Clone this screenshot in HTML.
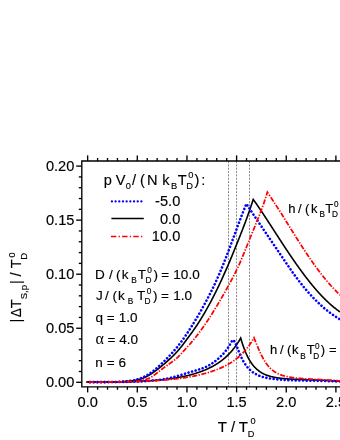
<!DOCTYPE html>
<html><head><meta charset="utf-8"><style>
html,body{margin:0;padding:0;background:#fff;}
svg{display:block;will-change:transform;}
text{font-family:"Liberation Sans",sans-serif;fill:#000;stroke:#000;stroke-width:0.15px;}
</style></head><body>
<svg width="340" height="440" viewBox="0 0 340 440">
<rect width="340" height="440" fill="#fff"/>
<defs><clipPath id="c"><rect x="81.8" y="161.0" width="258.2" height="225.8"/></clipPath></defs>
<g stroke="#858585" stroke-width="1" stroke-dasharray="2 1.35"><line x1="228.5" y1="161.0" x2="228.5" y2="386.8"/><line x1="236.55" y1="161.0" x2="236.55" y2="386.8"/><line x1="249.5" y1="161.0" x2="249.5" y2="386.8"/></g>
<g clip-path="url(#c)">
<path d="M86.60,382.09 L87.16,382.09 L87.71,382.09 L88.27,382.09 L88.83,382.09 L89.39,382.10 L89.94,382.10 L90.50,382.10 L91.06,382.10 L91.61,382.10 L92.17,382.10 L92.73,382.10 L93.29,382.11 L93.84,382.11 L94.40,382.11 L94.96,382.11 L95.52,382.11 L96.07,382.11 L96.63,382.11 L97.19,382.11 L97.74,382.11 L98.30,382.11 L98.86,382.11 L99.42,382.11 L99.97,382.11 L100.53,382.11 L101.09,382.11 L101.64,382.11 L102.20,382.11 L102.76,382.11 L103.32,382.11 L103.87,382.11 L104.43,382.11 L104.99,382.10 L105.54,382.10 L106.10,382.10 L106.66,382.09 L107.22,382.09 L107.77,382.09 L108.33,382.08 L108.89,382.08 L109.44,382.07 L110.00,382.06 L110.56,382.06 L111.12,382.05 L111.67,382.04 L112.23,382.04 L112.79,382.03 L113.35,382.02 L113.90,382.01 L114.46,382.00 L115.02,381.99 L115.57,381.97 L116.13,381.96 L116.69,381.95 L117.25,381.93 L117.80,381.92 L118.36,381.90 L118.92,381.88 L119.47,381.86 L120.03,381.84 L120.59,381.82 L121.15,381.79 L121.70,381.77 L122.26,381.74 L122.82,381.71 L123.37,381.68 L123.93,381.65 L124.49,381.62 L125.05,381.58 L125.60,381.54 L126.16,381.50 L126.72,381.46 L127.27,381.41 L127.83,381.36 L128.39,381.31 L128.95,381.25 L129.50,381.19 L130.06,381.13 L130.62,381.06 L131.18,380.99 L131.73,380.92 L132.29,380.84 L132.85,380.75 L133.40,380.67 L133.96,380.57 L134.52,380.48 L135.08,380.37 L135.63,380.26 L136.19,380.15 L136.75,380.03 L137.30,379.90 L137.86,379.76 L138.42,379.62 L138.98,379.47 L139.53,379.31 L140.09,379.15 L140.65,378.97 L141.20,378.79 L141.76,378.60 L142.32,378.40 L142.88,378.19 L143.43,377.97 L143.99,377.74 L144.55,377.50 L145.11,377.25 L145.66,376.99 L146.22,376.72 L146.78,376.44 L147.33,376.15 L147.89,375.85 L148.45,375.54 L149.01,375.22 L149.56,374.89 L150.12,374.54 L150.68,374.19 L151.23,373.83 L151.79,373.47 L152.35,373.09 L152.91,372.71 L153.46,372.32 L154.02,371.92 L154.58,371.52 L155.13,371.12 L155.69,370.71 L156.25,370.29 L156.81,369.87 L157.36,369.44 L157.92,369.01 L158.48,368.58 L159.03,368.14 L159.59,367.70 L160.15,367.25 L160.71,366.80 L161.26,366.35 L161.82,365.89 L162.38,365.43 L162.94,364.96 L163.49,364.50 L164.05,364.03 L164.61,363.55 L165.16,363.08 L165.72,362.60 L166.28,362.11 L166.84,361.62 L167.39,361.13 L167.95,360.64 L168.51,360.14 L169.06,359.64 L169.62,359.13 L170.18,358.61 L170.74,358.10 L171.29,357.57 L171.85,357.04 L172.41,356.51 L172.96,355.97 L173.52,355.42 L174.08,354.86 L174.64,354.29 L175.19,353.72 L175.75,353.13 L176.31,352.53 L176.86,351.93 L177.42,351.31 L177.98,350.68 L178.54,350.03 L179.09,349.38 L179.65,348.72 L180.21,348.04 L180.77,347.35 L181.32,346.66 L181.88,345.95 L182.44,345.24 L182.99,344.52 L183.55,343.79 L184.11,343.06 L184.67,342.32 L185.22,341.58 L185.78,340.83 L186.34,340.09 L186.89,339.34 L187.45,338.58 L188.01,337.83 L188.57,337.07 L189.12,336.31 L189.68,335.55 L190.24,334.79 L190.79,334.02 L191.35,333.25 L191.91,332.47 L192.47,331.69 L193.02,330.90 L193.58,330.11 L194.14,329.31 L194.69,328.50 L195.25,327.68 L195.81,326.86 L196.37,326.03 L196.92,325.19 L197.48,324.35 L198.04,323.49 L198.60,322.63 L199.15,321.76 L199.71,320.88 L200.27,319.99 L200.82,319.10 L201.38,318.19 L201.94,317.28 L202.50,316.36 L203.05,315.43 L203.61,314.50 L204.17,313.55 L204.72,312.60 L205.28,311.64 L205.84,310.67 L206.40,309.69 L206.95,308.70 L207.51,307.70 L208.07,306.70 L208.62,305.69 L209.18,304.67 L209.74,303.64 L210.30,302.60 L210.85,301.56 L211.41,300.51 L211.97,299.44 L212.53,298.37 L213.08,297.29 L213.64,296.21 L214.20,295.11 L214.75,294.01 L215.31,292.89 L215.87,291.77 L216.43,290.64 L216.98,289.51 L217.54,288.36 L218.10,287.21 L218.65,286.04 L219.21,284.87 L219.77,283.69 L220.33,282.50 L220.88,281.31 L221.44,280.10 L222.00,278.89 L222.55,277.66 L223.11,276.43 L223.67,275.20 L224.23,273.95 L224.78,272.69 L225.34,271.43 L225.90,270.16 L226.45,268.88 L227.01,267.60 L227.57,266.31 L228.13,265.01 L228.68,263.70 L229.24,262.39 L229.80,261.07 L230.36,259.74 L230.91,258.41 L231.47,257.07 L232.03,255.72 L232.58,254.37 L233.14,253.02 L233.70,251.65 L234.26,250.29 L234.81,248.92 L235.37,247.54 L235.93,246.16 L236.48,244.77 L237.04,243.38 L237.60,241.99 L238.16,240.59 L238.71,239.19 L239.27,237.79 L239.83,236.38 L240.38,234.97 L240.94,233.55 L241.50,232.13 L242.06,230.70 L242.61,229.26 L243.17,227.82 L243.73,226.37 L244.28,224.90 L244.84,223.43 L245.40,221.95 L245.96,220.45 L246.51,218.94 L247.07,217.42 L247.63,215.88 L248.19,214.32 L248.74,212.75 L249.30,211.16 L249.86,209.55 L250.41,207.91 L250.97,206.26 L251.53,204.58 L252.09,202.88 L252.64,201.15 L253.20,199.40 L253.49,199.80 L253.78,200.21 L254.07,200.61 L254.36,201.02 L254.65,201.43 L254.94,201.84 L255.23,202.25 L255.52,202.66 L255.81,203.07 L256.10,203.48 L256.39,203.90 L256.68,204.32 L256.97,204.73 L257.26,205.15 L257.55,205.57 L257.84,205.99 L258.14,206.42 L258.43,206.84 L258.72,207.26 L259.01,207.69 L259.30,208.12 L259.59,208.54 L259.88,208.97 L260.17,209.40 L260.46,209.83 L260.75,210.26 L261.04,210.69 L261.33,211.12 L261.62,211.56 L261.91,211.99 L262.20,212.43 L262.49,212.86 L262.78,213.30 L263.07,213.73 L263.36,214.17 L263.65,214.61 L263.94,215.05 L264.23,215.49 L264.52,215.93 L264.81,216.37 L265.10,216.81 L265.39,217.25 L265.68,217.70 L265.97,218.14 L266.26,218.58 L266.55,219.03 L266.84,219.47 L267.13,219.91 L267.42,220.36 L267.72,220.80 L268.01,221.25 L268.30,221.70 L268.59,222.14 L268.88,222.59 L269.17,223.04 L269.46,223.49 L269.75,223.93 L270.04,224.38 L270.33,224.83 L270.62,225.28 L270.91,225.73 L271.20,226.18 L271.49,226.62 L271.78,227.07 L272.07,227.52 L272.36,227.97 L272.65,228.42 L272.94,228.87 L273.23,229.32 L273.52,229.77 L273.81,230.22 L274.10,230.67 L274.39,231.12 L274.68,231.57 L274.97,232.02 L275.26,232.47 L275.55,232.92 L275.84,233.37 L276.13,233.82 L276.42,234.27 L276.71,234.72 L277.00,235.17 L277.29,235.61 L277.59,236.06 L277.88,236.51 L278.17,236.96 L278.46,237.41 L278.75,237.86 L279.04,238.30 L279.33,238.75 L279.62,239.20 L279.91,239.65 L280.20,240.09 L280.49,240.54 L280.78,240.98 L281.07,241.43 L281.36,241.88 L281.65,242.32 L281.94,242.76 L282.23,243.21 L282.52,243.65 L282.81,244.10 L283.10,244.54 L283.39,244.98 L283.68,245.42 L283.97,245.87 L284.26,246.31 L284.55,246.75 L284.84,247.19 L285.13,247.63 L285.42,248.07 L285.71,248.50 L286.00,248.94 L286.29,249.38 L286.58,249.82 L286.87,250.25 L287.17,250.69 L287.46,251.12 L287.75,251.56 L288.04,251.99 L288.33,252.43 L288.62,252.86 L288.91,253.29 L289.20,253.72 L289.49,254.15 L289.78,254.58 L290.07,255.01 L290.36,255.44 L290.65,255.87 L290.94,256.30 L291.23,256.72 L291.52,257.15 L291.81,257.57 L292.10,258.00 L292.39,258.42 L292.68,258.84 L292.97,259.27 L293.26,259.69 L293.55,260.11 L293.84,260.53 L294.13,260.95 L294.42,261.36 L294.71,261.78 L295.00,262.20 L295.29,262.61 L295.58,263.03 L295.87,263.44 L296.16,263.85 L296.45,264.27 L296.75,264.68 L297.04,265.09 L297.33,265.50 L297.62,265.91 L297.91,266.31 L298.20,266.72 L298.49,267.13 L298.78,267.53 L299.07,267.93 L299.36,268.34 L299.65,268.74 L299.94,269.14 L300.23,269.54 L300.52,269.94 L300.81,270.34 L301.10,270.74 L301.39,271.13 L301.68,271.53 L301.97,271.92 L302.26,272.32 L302.55,272.71 L302.84,273.10 L303.13,273.49 L303.42,273.88 L303.71,274.27 L304.00,274.65 L304.29,275.04 L304.58,275.43 L304.87,275.81 L305.16,276.19 L305.45,276.57 L305.74,276.96 L306.03,277.34 L306.33,277.71 L306.62,278.09 L306.91,278.47 L307.20,278.84 L307.49,279.22 L307.78,279.59 L308.07,279.96 L308.36,280.33 L308.65,280.70 L308.94,281.07 L309.23,281.44 L309.52,281.80 L309.81,282.17 L310.10,282.53 L310.39,282.89 L310.68,283.25 L310.97,283.61 L311.26,283.97 L311.55,284.32 L311.84,284.68 L312.13,285.03 L312.42,285.39 L312.71,285.74 L313.00,286.09 L313.29,286.43 L313.58,286.78 L313.87,287.13 L314.16,287.47 L314.45,287.81 L314.74,288.15 L315.03,288.49 L315.32,288.83 L315.61,289.17 L315.91,289.51 L316.20,289.84 L316.49,290.17 L316.78,290.50 L317.07,290.83 L317.36,291.16 L317.65,291.49 L317.94,291.81 L318.23,292.14 L318.52,292.46 L318.81,292.78 L319.10,293.10 L319.39,293.42 L319.68,293.73 L319.97,294.05 L320.26,294.36 L320.55,294.67 L320.84,294.98 L321.13,295.29 L321.42,295.60 L321.71,295.90 L322.00,296.21 L322.29,296.51 L322.58,296.81 L322.87,297.11 L323.16,297.40 L323.45,297.70 L323.74,297.99 L324.03,298.29 L324.32,298.58 L324.61,298.87 L324.90,299.16 L325.19,299.44 L325.48,299.73 L325.78,300.01 L326.07,300.29 L326.36,300.57 L326.65,300.85 L326.94,301.13 L327.23,301.40 L327.52,301.68 L327.81,301.95 L328.10,302.22 L328.39,302.49 L328.68,302.75 L328.97,303.02 L329.26,303.28 L329.55,303.55 L329.84,303.81 L330.13,304.06 L330.42,304.32 L330.71,304.58 L331.00,304.83 L331.29,305.08 L331.58,305.34 L331.87,305.58 L332.16,305.83 L332.45,306.08 L332.74,306.32 L333.03,306.56 L333.32,306.81 L333.61,307.05 L333.90,307.28 L334.19,307.52 L334.48,307.75 L334.77,307.99 L335.06,308.22 L335.36,308.45 L335.65,308.68 L335.94,308.90 L336.23,309.13 L336.52,309.35 L336.81,309.57 L337.10,309.79 L337.39,310.01 L337.68,310.22 L337.97,310.44 L338.26,310.65 L338.55,310.86 L338.84,311.07 L339.13,311.28 L339.42,311.49 L339.71,311.69 L340.00,311.90" fill="none" stroke="#000" stroke-width="1.6" stroke-linejoin="miter"/>
<path d="M86.60,382.08 L87.13,382.08 L87.67,382.09 L88.20,382.10 L88.74,382.10 L89.27,382.11 L89.81,382.11 L90.34,382.11 L90.88,382.12 L91.41,382.12 L91.94,382.13 L92.48,382.13 L93.01,382.13 L93.55,382.13 L94.08,382.14 L94.62,382.14 L95.15,382.14 L95.69,382.14 L96.22,382.15 L96.75,382.15 L97.29,382.15 L97.82,382.15 L98.36,382.15 L98.89,382.15 L99.43,382.15 L99.96,382.15 L100.50,382.15 L101.03,382.15 L101.56,382.14 L102.10,382.14 L102.63,382.14 L103.17,382.14 L103.70,382.13 L104.24,382.13 L104.77,382.13 L105.31,382.12 L105.84,382.12 L106.37,382.11 L106.91,382.11 L107.44,382.10 L107.98,382.10 L108.51,382.09 L109.05,382.08 L109.58,382.07 L110.12,382.07 L110.65,382.06 L111.18,382.05 L111.72,382.04 L112.25,382.03 L112.79,382.01 L113.32,382.00 L113.86,381.99 L114.39,381.97 L114.93,381.96 L115.46,381.94 L115.99,381.93 L116.53,381.91 L117.06,381.89 L117.60,381.87 L118.13,381.85 L118.67,381.83 L119.20,381.81 L119.74,381.78 L120.27,381.75 L120.80,381.73 L121.34,381.70 L121.87,381.67 L122.41,381.63 L122.94,381.60 L123.48,381.56 L124.01,381.52 L124.55,381.48 L125.08,381.43 L125.61,381.39 L126.15,381.34 L126.68,381.28 L127.22,381.23 L127.75,381.17 L128.29,381.10 L128.82,381.04 L129.36,380.97 L129.89,380.90 L130.42,380.82 L130.96,380.74 L131.49,380.65 L132.03,380.56 L132.56,380.46 L133.10,380.36 L133.63,380.26 L134.17,380.15 L134.70,380.03 L135.23,379.91 L135.77,379.78 L136.30,379.64 L136.84,379.50 L137.37,379.35 L137.91,379.20 L138.44,379.04 L138.98,378.87 L139.51,378.69 L140.04,378.51 L140.58,378.31 L141.11,378.11 L141.65,377.90 L142.18,377.68 L142.72,377.46 L143.25,377.22 L143.79,376.97 L144.32,376.72 L144.85,376.45 L145.39,376.18 L145.92,375.89 L146.46,375.60 L146.99,375.29 L147.53,374.98 L148.06,374.65 L148.60,374.32 L149.13,373.97 L149.66,373.62 L150.20,373.25 L150.73,372.88 L151.27,372.49 L151.80,372.10 L152.34,371.70 L152.87,371.28 L153.41,370.87 L153.94,370.44 L154.47,370.00 L155.01,369.56 L155.54,369.12 L156.08,368.66 L156.61,368.21 L157.15,367.74 L157.68,367.27 L158.22,366.80 L158.75,366.32 L159.28,365.84 L159.82,365.35 L160.35,364.85 L160.89,364.36 L161.42,363.86 L161.96,363.35 L162.49,362.84 L163.03,362.33 L163.56,361.81 L164.09,361.29 L164.63,360.76 L165.16,360.24 L165.70,359.70 L166.23,359.17 L166.77,358.63 L167.30,358.08 L167.84,357.53 L168.37,356.98 L168.91,356.42 L169.44,355.86 L169.97,355.30 L170.51,354.73 L171.04,354.15 L171.58,353.57 L172.11,352.98 L172.65,352.39 L173.18,351.79 L173.72,351.19 L174.25,350.57 L174.78,349.95 L175.32,349.32 L175.85,348.69 L176.39,348.04 L176.92,347.39 L177.46,346.72 L177.99,346.05 L178.53,345.37 L179.06,344.68 L179.59,343.98 L180.13,343.28 L180.66,342.56 L181.20,341.84 L181.73,341.11 L182.27,340.37 L182.80,339.62 L183.34,338.87 L183.87,338.11 L184.40,337.34 L184.94,336.56 L185.47,335.78 L186.01,334.99 L186.54,334.19 L187.08,333.39 L187.61,332.58 L188.15,331.76 L188.68,330.94 L189.21,330.12 L189.75,329.29 L190.28,328.45 L190.82,327.61 L191.35,326.77 L191.89,325.92 L192.42,325.06 L192.96,324.20 L193.49,323.34 L194.02,322.46 L194.56,321.59 L195.09,320.71 L195.63,319.82 L196.16,318.93 L196.70,318.04 L197.23,317.13 L197.77,316.23 L198.30,315.32 L198.83,314.40 L199.37,313.48 L199.90,312.55 L200.44,311.62 L200.97,310.68 L201.51,309.73 L202.04,308.78 L202.58,307.83 L203.11,306.86 L203.64,305.90 L204.18,304.92 L204.71,303.94 L205.25,302.95 L205.78,301.96 L206.32,300.96 L206.85,299.95 L207.39,298.93 L207.92,297.91 L208.45,296.88 L208.99,295.84 L209.52,294.80 L210.06,293.74 L210.59,292.68 L211.13,291.61 L211.66,290.53 L212.20,289.44 L212.73,288.34 L213.26,287.23 L213.80,286.11 L214.33,284.98 L214.87,283.84 L215.40,282.69 L215.94,281.53 L216.47,280.36 L217.01,279.17 L217.54,277.97 L218.07,276.76 L218.61,275.54 L219.14,274.30 L219.68,273.05 L220.21,271.79 L220.75,270.52 L221.28,269.24 L221.82,267.95 L222.35,266.64 L222.88,265.33 L223.42,264.00 L223.95,262.66 L224.49,261.32 L225.02,259.96 L225.56,258.60 L226.09,257.22 L226.63,255.84 L227.16,254.45 L227.69,253.05 L228.23,251.65 L228.76,250.24 L229.30,248.82 L229.83,247.40 L230.37,245.97 L230.90,244.53 L231.44,243.10 L231.97,241.66 L232.50,240.21 L233.04,238.76 L233.57,237.31 L234.11,235.86 L234.64,234.41 L235.18,232.96 L235.71,231.51 L236.25,230.06 L236.78,228.61 L237.31,227.17 L237.85,225.73 L238.38,224.29 L238.92,222.86 L239.45,221.43 L239.99,220.01 L240.52,218.60 L241.06,217.19 L241.59,215.80 L242.12,214.41 L242.66,213.04 L243.19,211.68 L243.73,210.33 L244.26,208.99 L244.80,207.67 L245.33,206.36 L245.87,205.07 L246.40,203.80 L246.71,204.29 L247.03,204.79 L247.34,205.28 L247.65,205.76 L247.97,206.25 L248.28,206.74 L248.59,207.22 L248.90,207.70 L249.22,208.19 L249.53,208.67 L249.84,209.15 L250.16,209.62 L250.47,210.10 L250.78,210.58 L251.10,211.05 L251.41,211.53 L251.72,212.00 L252.03,212.47 L252.35,212.94 L252.66,213.41 L252.97,213.88 L253.29,214.35 L253.60,214.82 L253.91,215.29 L254.23,215.75 L254.54,216.22 L254.85,216.69 L255.17,217.15 L255.48,217.62 L255.79,218.08 L256.10,218.54 L256.42,219.01 L256.73,219.47 L257.04,219.93 L257.36,220.40 L257.67,220.86 L257.98,221.32 L258.30,221.78 L258.61,222.25 L258.92,222.71 L259.23,223.17 L259.55,223.63 L259.86,224.09 L260.17,224.55 L260.49,225.02 L260.80,225.48 L261.11,225.94 L261.43,226.40 L261.74,226.86 L262.05,227.32 L262.37,227.78 L262.68,228.25 L262.99,228.71 L263.30,229.17 L263.62,229.63 L263.93,230.09 L264.24,230.55 L264.56,231.01 L264.87,231.48 L265.18,231.94 L265.50,232.40 L265.81,232.86 L266.12,233.32 L266.43,233.78 L266.75,234.25 L267.06,234.71 L267.37,235.17 L267.69,235.63 L268.00,236.09 L268.31,236.56 L268.63,237.02 L268.94,237.48 L269.25,237.94 L269.57,238.40 L269.88,238.87 L270.19,239.33 L270.50,239.79 L270.82,240.25 L271.13,240.71 L271.44,241.18 L271.76,241.64 L272.07,242.10 L272.38,242.56 L272.70,243.03 L273.01,243.49 L273.32,243.95 L273.63,244.42 L273.95,244.88 L274.26,245.34 L274.57,245.80 L274.89,246.27 L275.20,246.73 L275.51,247.19 L275.83,247.66 L276.14,248.12 L276.45,248.58 L276.77,249.05 L277.08,249.51 L277.39,249.97 L277.70,250.44 L278.02,250.90 L278.33,251.36 L278.64,251.83 L278.96,252.29 L279.27,252.75 L279.58,253.22 L279.90,253.68 L280.21,254.15 L280.52,254.61 L280.83,255.07 L281.15,255.54 L281.46,256.00 L281.77,256.46 L282.09,256.93 L282.40,257.39 L282.71,257.86 L283.03,258.32 L283.34,258.78 L283.65,259.25 L283.97,259.71 L284.28,260.17 L284.59,260.64 L284.90,261.10 L285.22,261.56 L285.53,262.03 L285.84,262.49 L286.16,262.95 L286.47,263.41 L286.78,263.87 L287.10,264.33 L287.41,264.79 L287.72,265.25 L288.03,265.71 L288.35,266.17 L288.66,266.63 L288.97,267.08 L289.29,267.54 L289.60,267.99 L289.91,268.44 L290.23,268.90 L290.54,269.35 L290.85,269.80 L291.17,270.25 L291.48,270.69 L291.79,271.14 L292.10,271.58 L292.42,272.03 L292.73,272.47 L293.04,272.91 L293.36,273.35 L293.67,273.79 L293.98,274.22 L294.30,274.66 L294.61,275.09 L294.92,275.52 L295.23,275.95 L295.55,276.38 L295.86,276.81 L296.17,277.23 L296.49,277.65 L296.80,278.08 L297.11,278.50 L297.43,278.91 L297.74,279.33 L298.05,279.74 L298.37,280.16 L298.68,280.57 L298.99,280.98 L299.30,281.39 L299.62,281.79 L299.93,282.20 L300.24,282.60 L300.56,283.00 L300.87,283.40 L301.18,283.80 L301.50,284.19 L301.81,284.58 L302.12,284.98 L302.43,285.37 L302.75,285.75 L303.06,286.14 L303.37,286.53 L303.69,286.91 L304.00,287.29 L304.31,287.67 L304.63,288.05 L304.94,288.42 L305.25,288.80 L305.57,289.17 L305.88,289.54 L306.19,289.91 L306.50,290.28 L306.82,290.64 L307.13,291.00 L307.44,291.37 L307.76,291.73 L308.07,292.08 L308.38,292.44 L308.70,292.79 L309.01,293.15 L309.32,293.50 L309.63,293.85 L309.95,294.19 L310.26,294.54 L310.57,294.88 L310.89,295.22 L311.20,295.56 L311.51,295.90 L311.83,296.24 L312.14,296.57 L312.45,296.91 L312.77,297.24 L313.08,297.57 L313.39,297.89 L313.70,298.22 L314.02,298.54 L314.33,298.86 L314.64,299.18 L314.96,299.50 L315.27,299.82 L315.58,300.13 L315.90,300.45 L316.21,300.76 L316.52,301.07 L316.83,301.38 L317.15,301.68 L317.46,301.99 L317.77,302.29 L318.09,302.59 L318.40,302.89 L318.71,303.18 L319.03,303.48 L319.34,303.77 L319.65,304.06 L319.97,304.35 L320.28,304.64 L320.59,304.93 L320.90,305.21 L321.22,305.50 L321.53,305.78 L321.84,306.06 L322.16,306.34 L322.47,306.61 L322.78,306.89 L323.10,307.16 L323.41,307.43 L323.72,307.70 L324.03,307.97 L324.35,308.23 L324.66,308.50 L324.97,308.76 L325.29,309.02 L325.60,309.28 L325.91,309.54 L326.23,309.79 L326.54,310.04 L326.85,310.30 L327.17,310.55 L327.48,310.80 L327.79,311.04 L328.10,311.29 L328.42,311.53 L328.73,311.77 L329.04,312.01 L329.36,312.25 L329.67,312.49 L329.98,312.72 L330.30,312.96 L330.61,313.19 L330.92,313.42 L331.23,313.65 L331.55,313.88 L331.86,314.10 L332.17,314.32 L332.49,314.55 L332.80,314.77 L333.11,314.99 L333.43,315.20 L333.74,315.42 L334.05,315.63 L334.37,315.84 L334.68,316.06 L334.99,316.26 L335.30,316.47 L335.62,316.68 L335.93,316.88 L336.24,317.08 L336.56,317.29 L336.87,317.49 L337.18,317.68 L337.50,317.88 L337.81,318.07 L338.12,318.27 L338.43,318.46 L338.75,318.65 L339.06,318.84 L339.37,319.02 L339.69,319.21 L340.00,319.39" fill="none" stroke="#0000ff" stroke-width="2.6" stroke-dasharray="0.01 3.67" stroke-linecap="round" stroke-dashoffset="0.43" stroke-linejoin="miter"/>
<path d="M86.60,382.10 L87.20,382.10 L87.81,382.10 L88.41,382.10 L89.02,382.10 L89.62,382.10 L90.23,382.10 L90.83,382.10 L91.44,382.10 L92.04,382.10 L92.65,382.10 L93.25,382.10 L93.85,382.10 L94.46,382.10 L95.06,382.10 L95.67,382.10 L96.27,382.09 L96.88,382.09 L97.48,382.09 L98.09,382.09 L98.69,382.09 L99.29,382.09 L99.90,382.08 L100.50,382.08 L101.11,382.08 L101.71,382.08 L102.32,382.07 L102.92,382.07 L103.53,382.07 L104.13,382.07 L104.74,382.06 L105.34,382.06 L105.94,382.05 L106.55,382.05 L107.15,382.05 L107.76,382.04 L108.36,382.04 L108.97,382.03 L109.57,382.03 L110.18,382.02 L110.78,382.01 L111.39,382.01 L111.99,382.00 L112.59,381.99 L113.20,381.99 L113.80,381.98 L114.41,381.97 L115.01,381.96 L115.62,381.95 L116.22,381.94 L116.83,381.93 L117.43,381.92 L118.03,381.91 L118.64,381.90 L119.24,381.89 L119.85,381.88 L120.45,381.86 L121.06,381.85 L121.66,381.83 L122.27,381.82 L122.87,381.80 L123.48,381.79 L124.08,381.77 L124.68,381.75 L125.29,381.73 L125.89,381.71 L126.50,381.69 L127.10,381.67 L127.71,381.64 L128.31,381.62 L128.92,381.59 L129.52,381.57 L130.13,381.54 L130.73,381.50 L131.33,381.47 L131.94,381.44 L132.54,381.40 L133.15,381.36 L133.75,381.32 L134.36,381.27 L134.96,381.22 L135.57,381.17 L136.17,381.12 L136.77,381.06 L137.38,380.99 L137.98,380.93 L138.59,380.85 L139.19,380.78 L139.80,380.69 L140.40,380.60 L141.01,380.51 L141.61,380.40 L142.22,380.29 L142.82,380.17 L143.42,380.03 L144.03,379.89 L144.63,379.74 L145.24,379.57 L145.84,379.39 L146.45,379.19 L147.05,378.98 L147.66,378.75 L148.26,378.50 L148.87,378.24 L149.47,377.95 L150.07,377.65 L150.68,377.33 L151.28,377.00 L151.89,376.64 L152.49,376.27 L153.10,375.88 L153.70,375.47 L154.31,375.04 L154.91,374.61 L155.51,374.16 L156.12,373.70 L156.72,373.24 L157.33,372.78 L157.93,372.31 L158.54,371.84 L159.14,371.37 L159.75,370.90 L160.35,370.43 L160.96,369.96 L161.56,369.49 L162.16,369.03 L162.77,368.57 L163.37,368.12 L163.98,367.66 L164.58,367.22 L165.19,366.77 L165.79,366.33 L166.40,365.89 L167.00,365.46 L167.61,365.03 L168.21,364.60 L168.81,364.17 L169.42,363.74 L170.02,363.32 L170.63,362.89 L171.23,362.46 L171.84,362.02 L172.44,361.58 L173.05,361.14 L173.65,360.68 L174.25,360.22 L174.86,359.75 L175.46,359.26 L176.07,358.75 L176.67,358.23 L177.28,357.69 L177.88,357.12 L178.49,356.54 L179.09,355.94 L179.70,355.32 L180.30,354.68 L180.90,354.04 L181.51,353.39 L182.11,352.73 L182.72,352.06 L183.32,351.40 L183.93,350.74 L184.53,350.07 L185.14,349.41 L185.74,348.75 L186.34,348.08 L186.95,347.41 L187.55,346.74 L188.16,346.07 L188.76,345.40 L189.37,344.72 L189.97,344.03 L190.58,343.34 L191.18,342.64 L191.79,341.94 L192.39,341.22 L192.99,340.50 L193.60,339.77 L194.20,339.03 L194.81,338.28 L195.41,337.53 L196.02,336.77 L196.62,335.99 L197.23,335.22 L197.83,334.43 L198.44,333.63 L199.04,332.83 L199.64,332.02 L200.25,331.20 L200.85,330.37 L201.46,329.54 L202.06,328.70 L202.67,327.85 L203.27,326.99 L203.88,326.13 L204.48,325.25 L205.08,324.37 L205.69,323.49 L206.29,322.59 L206.90,321.69 L207.50,320.78 L208.11,319.87 L208.71,318.95 L209.32,318.02 L209.92,317.08 L210.53,316.14 L211.13,315.19 L211.73,314.24 L212.34,313.27 L212.94,312.31 L213.55,311.33 L214.15,310.35 L214.76,309.37 L215.36,308.37 L215.97,307.38 L216.57,306.38 L217.18,305.37 L217.78,304.35 L218.38,303.34 L218.99,302.31 L219.59,301.29 L220.20,300.25 L220.80,299.22 L221.41,298.18 L222.01,297.13 L222.62,296.08 L223.22,295.02 L223.82,293.96 L224.43,292.90 L225.03,291.83 L225.64,290.75 L226.24,289.67 L226.85,288.58 L227.45,287.49 L228.06,286.39 L228.66,285.29 L229.27,284.18 L229.87,283.07 L230.47,281.95 L231.08,280.82 L231.68,279.69 L232.29,278.55 L232.89,277.40 L233.50,276.25 L234.10,275.08 L234.71,273.89 L235.31,272.69 L235.92,271.48 L236.52,270.24 L237.12,268.97 L237.73,267.69 L238.33,266.38 L238.94,265.04 L239.54,263.69 L240.15,262.31 L240.75,260.92 L241.36,259.51 L241.96,258.08 L242.56,256.63 L243.17,255.17 L243.77,253.70 L244.38,252.22 L244.98,250.73 L245.59,249.24 L246.19,247.74 L246.80,246.23 L247.40,244.73 L248.01,243.22 L248.61,241.72 L249.21,240.22 L249.82,238.73 L250.42,237.25 L251.03,235.77 L251.63,234.30 L252.24,232.83 L252.84,231.37 L253.45,229.90 L254.05,228.44 L254.66,226.97 L255.26,225.50 L255.86,224.02 L256.47,222.53 L257.07,221.04 L257.68,219.54 L258.28,218.02 L258.89,216.49 L259.49,214.94 L260.10,213.37 L260.70,211.78 L261.30,210.17 L261.91,208.53 L262.51,206.86 L263.12,205.17 L263.72,203.44 L264.33,201.67 L264.93,199.87 L265.54,198.02 L266.14,196.13 L266.75,194.19 L267.35,192.20 L267.59,192.55 L267.84,192.91 L268.08,193.26 L268.32,193.62 L268.56,193.98 L268.81,194.33 L269.05,194.69 L269.29,195.05 L269.54,195.41 L269.78,195.77 L270.02,196.13 L270.27,196.50 L270.51,196.86 L270.75,197.22 L270.99,197.59 L271.24,197.95 L271.48,198.32 L271.72,198.68 L271.97,199.05 L272.21,199.42 L272.45,199.78 L272.70,200.15 L272.94,200.52 L273.18,200.89 L273.42,201.26 L273.67,201.63 L273.91,202.00 L274.15,202.38 L274.40,202.75 L274.64,203.12 L274.88,203.50 L275.13,203.87 L275.37,204.24 L275.61,204.62 L275.85,205.00 L276.10,205.37 L276.34,205.75 L276.58,206.13 L276.83,206.50 L277.07,206.88 L277.31,207.26 L277.56,207.64 L277.80,208.02 L278.04,208.40 L278.28,208.78 L278.53,209.16 L278.77,209.54 L279.01,209.92 L279.26,210.31 L279.50,210.69 L279.74,211.07 L279.98,211.45 L280.23,211.84 L280.47,212.22 L280.71,212.61 L280.96,212.99 L281.20,213.37 L281.44,213.76 L281.69,214.15 L281.93,214.53 L282.17,214.92 L282.41,215.30 L282.66,215.69 L282.90,216.08 L283.14,216.46 L283.39,216.85 L283.63,217.24 L283.87,217.63 L284.12,218.01 L284.36,218.40 L284.60,218.79 L284.84,219.18 L285.09,219.57 L285.33,219.96 L285.57,220.35 L285.82,220.74 L286.06,221.13 L286.30,221.52 L286.55,221.91 L286.79,222.30 L287.03,222.69 L287.27,223.08 L287.52,223.47 L287.76,223.86 L288.00,224.25 L288.25,224.64 L288.49,225.03 L288.73,225.42 L288.97,225.81 L289.22,226.20 L289.46,226.59 L289.70,226.98 L289.95,227.38 L290.19,227.77 L290.43,228.16 L290.68,228.55 L290.92,228.94 L291.16,229.33 L291.40,229.72 L291.65,230.11 L291.89,230.50 L292.13,230.89 L292.38,231.28 L292.62,231.67 L292.86,232.06 L293.11,232.45 L293.35,232.84 L293.59,233.23 L293.83,233.62 L294.08,234.01 L294.32,234.40 L294.56,234.79 L294.81,235.18 L295.05,235.57 L295.29,235.96 L295.54,236.34 L295.78,236.73 L296.02,237.12 L296.26,237.51 L296.51,237.89 L296.75,238.28 L296.99,238.66 L297.24,239.05 L297.48,239.44 L297.72,239.82 L297.97,240.20 L298.21,240.59 L298.45,240.97 L298.69,241.36 L298.94,241.74 L299.18,242.12 L299.42,242.50 L299.67,242.88 L299.91,243.27 L300.15,243.65 L300.39,244.03 L300.64,244.41 L300.88,244.79 L301.12,245.16 L301.37,245.54 L301.61,245.92 L301.85,246.30 L302.10,246.67 L302.34,247.05 L302.58,247.42 L302.82,247.80 L303.07,248.17 L303.31,248.55 L303.55,248.92 L303.80,249.29 L304.04,249.66 L304.28,250.03 L304.53,250.41 L304.77,250.78 L305.01,251.14 L305.25,251.51 L305.50,251.88 L305.74,252.25 L305.98,252.61 L306.23,252.98 L306.47,253.35 L306.71,253.71 L306.96,254.07 L307.20,254.44 L307.44,254.80 L307.68,255.16 L307.93,255.52 L308.17,255.88 L308.41,256.24 L308.66,256.60 L308.90,256.96 L309.14,257.32 L309.38,257.67 L309.63,258.03 L309.87,258.38 L310.11,258.74 L310.36,259.09 L310.60,259.44 L310.84,259.79 L311.09,260.14 L311.33,260.49 L311.57,260.84 L311.81,261.19 L312.06,261.54 L312.30,261.89 L312.54,262.23 L312.79,262.58 L313.03,262.92 L313.27,263.26 L313.52,263.61 L313.76,263.95 L314.00,264.29 L314.24,264.63 L314.49,264.97 L314.73,265.31 L314.97,265.64 L315.22,265.98 L315.46,266.31 L315.70,266.65 L315.95,266.98 L316.19,267.31 L316.43,267.65 L316.67,267.98 L316.92,268.31 L317.16,268.64 L317.40,268.96 L317.65,269.29 L317.89,269.62 L318.13,269.94 L318.38,270.27 L318.62,270.59 L318.86,270.91 L319.10,271.23 L319.35,271.55 L319.59,271.87 L319.83,272.19 L320.08,272.51 L320.32,272.82 L320.56,273.14 L320.80,273.45 L321.05,273.77 L321.29,274.08 L321.53,274.39 L321.78,274.70 L322.02,275.01 L322.26,275.32 L322.51,275.63 L322.75,275.93 L322.99,276.24 L323.23,276.54 L323.48,276.85 L323.72,277.15 L323.96,277.45 L324.21,277.75 L324.45,278.05 L324.69,278.35 L324.94,278.65 L325.18,278.94 L325.42,279.24 L325.66,279.53 L325.91,279.83 L326.15,280.12 L326.39,280.41 L326.64,280.70 L326.88,280.99 L327.12,281.28 L327.37,281.57 L327.61,281.85 L327.85,282.14 L328.09,282.42 L328.34,282.70 L328.58,282.99 L328.82,283.27 L329.07,283.55 L329.31,283.82 L329.55,284.10 L329.79,284.38 L330.04,284.65 L330.28,284.93 L330.52,285.20 L330.77,285.48 L331.01,285.75 L331.25,286.02 L331.50,286.29 L331.74,286.55 L331.98,286.82 L332.22,287.09 L332.47,287.35 L332.71,287.62 L332.95,287.88 L333.20,288.14 L333.44,288.40 L333.68,288.66 L333.93,288.92 L334.17,289.18 L334.41,289.44 L334.65,289.69 L334.90,289.95 L335.14,290.20 L335.38,290.45 L335.63,290.70 L335.87,290.95 L336.11,291.20 L336.36,291.45 L336.60,291.70 L336.84,291.94 L337.08,292.19 L337.33,292.43 L337.57,292.67 L337.81,292.92 L338.06,293.16 L338.30,293.40 L338.54,293.63 L338.79,293.87 L339.03,294.11 L339.27,294.34 L339.51,294.58 L339.76,294.81 L340.00,295.04" fill="none" stroke="#ff0000" stroke-width="1.75" stroke-dasharray="5.1 1.5 1.3 1.5" stroke-dashoffset="6.95" stroke-linejoin="miter"/>
<path d="M86.60,382.13 L87.12,382.13 L87.63,382.13 L88.15,382.14 L88.66,382.14 L89.18,382.14 L89.69,382.14 L90.21,382.14 L90.72,382.14 L91.24,382.14 L91.75,382.14 L92.27,382.14 L92.78,382.14 L93.30,382.14 L93.82,382.13 L94.33,382.13 L94.85,382.13 L95.36,382.13 L95.88,382.13 L96.39,382.13 L96.91,382.13 L97.42,382.12 L97.94,382.12 L98.45,382.12 L98.97,382.12 L99.48,382.12 L100.00,382.11 L100.52,382.11 L101.03,382.11 L101.55,382.11 L102.06,382.10 L102.58,382.10 L103.09,382.10 L103.61,382.09 L104.12,382.09 L104.64,382.08 L105.15,382.08 L105.67,382.08 L106.18,382.07 L106.70,382.07 L107.22,382.06 L107.73,382.06 L108.25,382.05 L108.76,382.05 L109.28,382.04 L109.79,382.04 L110.31,382.03 L110.82,382.03 L111.34,382.02 L111.85,382.01 L112.37,382.01 L112.88,382.00 L113.40,381.99 L113.92,381.99 L114.43,381.98 L114.95,381.97 L115.46,381.97 L115.98,381.96 L116.49,381.95 L117.01,381.94 L117.52,381.93 L118.04,381.92 L118.55,381.92 L119.07,381.91 L119.58,381.90 L120.10,381.89 L120.62,381.88 L121.13,381.87 L121.65,381.86 L122.16,381.85 L122.68,381.84 L123.19,381.83 L123.71,381.82 L124.22,381.80 L124.74,381.79 L125.25,381.78 L125.77,381.77 L126.28,381.76 L126.80,381.74 L127.32,381.73 L127.83,381.72 L128.35,381.70 L128.86,381.69 L129.38,381.68 L129.89,381.66 L130.41,381.65 L130.92,381.63 L131.44,381.62 L131.95,381.60 L132.47,381.58 L132.98,381.57 L133.50,381.55 L134.02,381.53 L134.53,381.52 L135.05,381.50 L135.56,381.48 L136.08,381.46 L136.59,381.44 L137.11,381.42 L137.62,381.40 L138.14,381.38 L138.65,381.36 L139.17,381.34 L139.68,381.32 L140.20,381.30 L140.72,381.27 L141.23,381.25 L141.75,381.23 L142.26,381.20 L142.78,381.18 L143.29,381.15 L143.81,381.13 L144.32,381.10 L144.84,381.07 L145.35,381.05 L145.87,381.02 L146.38,380.99 L146.90,380.96 L147.42,380.93 L147.93,380.90 L148.45,380.87 L148.96,380.84 L149.48,380.81 L149.99,380.77 L150.51,380.74 L151.02,380.70 L151.54,380.67 L152.05,380.63 L152.57,380.60 L153.08,380.56 L153.60,380.52 L154.12,380.48 L154.63,380.44 L155.15,380.40 L155.66,380.36 L156.18,380.32 L156.69,380.28 L157.21,380.24 L157.72,380.19 L158.24,380.15 L158.75,380.10 L159.27,380.05 L159.78,380.00 L160.30,379.96 L160.82,379.91 L161.33,379.86 L161.85,379.80 L162.36,379.75 L162.88,379.70 L163.39,379.64 L163.91,379.59 L164.42,379.53 L164.94,379.47 L165.45,379.41 L165.97,379.35 L166.48,379.29 L167.00,379.23 L167.52,379.16 L168.03,379.10 L168.55,379.03 L169.06,378.96 L169.58,378.90 L170.09,378.83 L170.61,378.75 L171.12,378.68 L171.64,378.61 L172.15,378.53 L172.67,378.46 L173.18,378.38 L173.70,378.30 L174.22,378.22 L174.73,378.13 L175.25,378.05 L175.76,377.96 L176.28,377.88 L176.79,377.79 L177.31,377.70 L177.82,377.61 L178.34,377.52 L178.85,377.42 L179.37,377.32 L179.88,377.23 L180.40,377.13 L180.92,377.03 L181.43,376.92 L181.95,376.82 L182.46,376.71 L182.98,376.60 L183.49,376.49 L184.01,376.38 L184.52,376.27 L185.04,376.15 L185.55,376.04 L186.07,375.92 L186.58,375.80 L187.10,375.67 L187.62,375.55 L188.13,375.42 L188.65,375.30 L189.16,375.17 L189.68,375.03 L190.19,374.90 L190.71,374.76 L191.22,374.62 L191.74,374.48 L192.25,374.34 L192.77,374.20 L193.28,374.05 L193.80,373.90 L194.32,373.75 L194.83,373.59 L195.35,373.44 L195.86,373.28 L196.38,373.11 L196.89,372.95 L197.41,372.78 L197.92,372.61 L198.44,372.44 L198.95,372.26 L199.47,372.09 L199.98,371.91 L200.50,371.72 L201.02,371.53 L201.53,371.34 L202.05,371.15 L202.56,370.95 L203.08,370.75 L203.59,370.55 L204.11,370.34 L204.62,370.13 L205.14,369.92 L205.65,369.70 L206.17,369.48 L206.68,369.25 L207.20,369.02 L207.72,368.79 L208.23,368.55 L208.75,368.31 L209.26,368.06 L209.78,367.81 L210.29,367.56 L210.81,367.30 L211.32,367.03 L211.84,366.76 L212.35,366.49 L212.87,366.21 L213.38,365.92 L213.90,365.63 L214.42,365.34 L214.93,365.04 L215.45,364.73 L215.96,364.42 L216.48,364.10 L216.99,363.77 L217.51,363.44 L218.02,363.10 L218.54,362.76 L219.05,362.41 L219.57,362.05 L220.08,361.68 L220.60,361.31 L221.12,360.93 L221.63,360.54 L222.15,360.14 L222.66,359.74 L223.18,359.32 L223.69,358.90 L224.21,358.47 L224.72,358.03 L225.24,357.58 L225.75,357.12 L226.27,356.65 L226.78,356.17 L227.30,355.68 L227.82,355.18 L228.33,354.67 L228.85,354.15 L229.36,353.61 L229.88,353.06 L230.39,352.51 L230.91,351.93 L231.42,351.35 L231.94,350.75 L232.45,350.14 L232.97,349.51 L233.48,348.87 L234.00,348.22 L234.52,347.55 L235.03,346.86 L235.55,346.15 L236.06,345.43 L236.58,344.70 L237.09,343.94 L237.61,343.17 L238.12,342.37 L238.64,341.56 L239.15,340.73 L239.67,339.87 L240.18,339.00 L240.70,338.10 L241.03,339.22 L241.36,340.33 L241.70,341.40 L242.03,342.45 L242.36,343.48 L242.69,344.48 L243.02,345.46 L243.36,346.42 L243.69,347.35 L244.02,348.26 L244.35,349.15 L244.69,350.01 L245.02,350.85 L245.35,351.67 L245.68,352.47 L246.01,353.24 L246.35,353.99 L246.68,354.73 L247.01,355.44 L247.34,356.13 L247.67,356.80 L248.01,357.45 L248.34,358.09 L248.67,358.70 L249.00,359.30 L249.33,359.88 L249.67,360.44 L250.00,360.98 L250.33,361.51 L250.66,362.02 L251.00,362.52 L251.33,363.00 L251.66,363.46 L251.99,363.91 L252.32,364.35 L252.66,364.78 L252.99,365.19 L253.32,365.59 L253.65,365.99 L253.98,366.37 L254.32,366.74 L254.65,367.10 L254.98,367.45 L255.31,367.79 L255.64,368.12 L255.98,368.45 L256.31,368.76 L256.64,369.07 L256.97,369.37 L257.31,369.66 L257.64,369.94 L257.97,370.22 L258.30,370.49 L258.63,370.75 L258.97,371.00 L259.30,371.24 L259.63,371.48 L259.96,371.71 L260.29,371.94 L260.63,372.16 L260.96,372.37 L261.29,372.57 L261.62,372.77 L261.95,372.97 L262.29,373.16 L262.62,373.34 L262.95,373.51 L263.28,373.69 L263.62,373.85 L263.95,374.02 L264.28,374.17 L264.61,374.32 L264.94,374.47 L265.28,374.62 L265.61,374.76 L265.94,374.89 L266.27,375.02 L266.60,375.15 L266.94,375.27 L267.27,375.39 L267.60,375.51 L267.93,375.62 L268.26,375.73 L268.60,375.84 L268.93,375.94 L269.26,376.04 L269.59,376.14 L269.93,376.24 L270.26,376.33 L270.59,376.42 L270.92,376.50 L271.25,376.59 L271.59,376.67 L271.92,376.75 L272.25,376.83 L272.58,376.90 L272.91,376.98 L273.25,377.05 L273.58,377.12 L273.91,377.19 L274.24,377.25 L274.57,377.32 L274.91,377.38 L275.24,377.44 L275.57,377.50 L275.90,377.56 L276.24,377.61 L276.57,377.67 L276.90,377.72 L277.23,377.77 L277.56,377.82 L277.90,377.87 L278.23,377.92 L278.56,377.97 L278.89,378.01 L279.22,378.06 L279.56,378.10 L279.89,378.14 L280.22,378.18 L280.55,378.22 L280.88,378.26 L281.22,378.30 L281.55,378.34 L281.88,378.37 L282.21,378.41 L282.55,378.44 L282.88,378.48 L283.21,378.51 L283.54,378.54 L283.87,378.57 L284.21,378.60 L284.54,378.63 L284.87,378.66 L285.20,378.69 L285.53,378.72 L285.87,378.74 L286.20,378.77 L286.53,378.80 L286.86,378.82 L287.19,378.85 L287.53,378.87 L287.86,378.89 L288.19,378.92 L288.52,378.94 L288.86,378.96 L289.19,378.98 L289.52,379.00 L289.85,379.02 L290.18,379.04 L290.52,379.06 L290.85,379.08 L291.18,379.10 L291.51,379.12 L291.84,379.13 L292.18,379.15 L292.51,379.17 L292.84,379.19 L293.17,379.20 L293.51,379.22 L293.84,379.23 L294.17,379.25 L294.50,379.26 L294.83,379.28 L295.17,379.29 L295.50,379.31 L295.83,379.32 L296.16,379.34 L296.49,379.35 L296.83,379.36 L297.16,379.38 L297.49,379.39 L297.82,379.40 L298.15,379.41 L298.49,379.43 L298.82,379.44 L299.15,379.45 L299.48,379.46 L299.82,379.47 L300.15,379.48 L300.48,379.49 L300.81,379.51 L301.14,379.52 L301.48,379.53 L301.81,379.54 L302.14,379.55 L302.47,379.56 L302.80,379.57 L303.14,379.58 L303.47,379.59 L303.80,379.60 L304.13,379.61 L304.46,379.62 L304.80,379.63 L305.13,379.64 L305.46,379.65 L305.79,379.66 L306.13,379.67 L306.46,379.68 L306.79,379.69 L307.12,379.70 L307.45,379.71 L307.79,379.72 L308.12,379.73 L308.45,379.74 L308.78,379.75 L309.11,379.76 L309.45,379.77 L309.78,379.78 L310.11,379.79 L310.44,379.80 L310.77,379.81 L311.11,379.82 L311.44,379.83 L311.77,379.84 L312.10,379.85 L312.44,379.86 L312.77,379.87 L313.10,379.88 L313.43,379.89 L313.76,379.90 L314.10,379.91 L314.43,379.92 L314.76,379.94 L315.09,379.95 L315.42,379.96 L315.76,379.97 L316.09,379.98 L316.42,379.99 L316.75,380.00 L317.08,380.02 L317.42,380.03 L317.75,380.04 L318.08,380.05 L318.41,380.06 L318.75,380.08 L319.08,380.09 L319.41,380.10 L319.74,380.12 L320.07,380.13 L320.41,380.14 L320.74,380.15 L321.07,380.17 L321.40,380.18 L321.73,380.20 L322.07,380.21 L322.40,380.22 L322.73,380.24 L323.06,380.25 L323.39,380.27 L323.73,380.28 L324.06,380.30 L324.39,380.31 L324.72,380.33 L325.06,380.35 L325.39,380.36 L325.72,380.38 L326.05,380.39 L326.38,380.41 L326.72,380.43 L327.05,380.44 L327.38,380.46 L327.71,380.48 L328.04,380.49 L328.38,380.51 L328.71,380.53 L329.04,380.55 L329.37,380.56 L329.70,380.58 L330.04,380.60 L330.37,380.62 L330.70,380.64 L331.03,380.66 L331.37,380.67 L331.70,380.69 L332.03,380.71 L332.36,380.73 L332.69,380.75 L333.03,380.77 L333.36,380.79 L333.69,380.81 L334.02,380.83 L334.35,380.85 L334.69,380.87 L335.02,380.89 L335.35,380.91 L335.68,380.93 L336.01,380.95 L336.35,380.97 L336.68,380.99 L337.01,381.01 L337.34,381.04 L337.68,381.06 L338.01,381.08 L338.34,381.10 L338.67,381.12 L339.00,381.14 L339.34,381.16 L339.67,381.18 L340.00,381.20" fill="none" stroke="#000" stroke-width="1.6" stroke-linejoin="miter"/>
<path d="M86.60,382.09 L87.09,382.09 L87.58,382.10 L88.07,382.10 L88.56,382.10 L89.05,382.10 L89.54,382.10 L90.03,382.10 L90.51,382.11 L91.00,382.11 L91.49,382.11 L91.98,382.11 L92.47,382.11 L92.96,382.11 L93.45,382.11 L93.94,382.11 L94.43,382.11 L94.92,382.11 L95.41,382.11 L95.90,382.11 L96.39,382.11 L96.88,382.11 L97.36,382.11 L97.85,382.11 L98.34,382.11 L98.83,382.11 L99.32,382.11 L99.81,382.11 L100.30,382.11 L100.79,382.11 L101.28,382.11 L101.77,382.10 L102.26,382.10 L102.75,382.10 L103.24,382.10 L103.73,382.10 L104.21,382.10 L104.70,382.09 L105.19,382.09 L105.68,382.09 L106.17,382.09 L106.66,382.09 L107.15,382.08 L107.64,382.08 L108.13,382.08 L108.62,382.07 L109.11,382.07 L109.60,382.07 L110.09,382.06 L110.58,382.06 L111.06,382.06 L111.55,382.05 L112.04,382.05 L112.53,382.05 L113.02,382.04 L113.51,382.04 L114.00,382.03 L114.49,382.03 L114.98,382.02 L115.47,382.02 L115.96,382.01 L116.45,382.01 L116.94,382.00 L117.43,382.00 L117.92,381.99 L118.40,381.98 L118.89,381.98 L119.38,381.97 L119.87,381.96 L120.36,381.96 L120.85,381.95 L121.34,381.94 L121.83,381.94 L122.32,381.93 L122.81,381.92 L123.30,381.91 L123.79,381.90 L124.28,381.89 L124.77,381.89 L125.25,381.88 L125.74,381.87 L126.23,381.86 L126.72,381.85 L127.21,381.84 L127.70,381.83 L128.19,381.81 L128.68,381.80 L129.17,381.79 L129.66,381.78 L130.15,381.77 L130.64,381.76 L131.13,381.74 L131.62,381.73 L132.10,381.72 L132.59,381.70 L133.08,381.69 L133.57,381.67 L134.06,381.66 L134.55,381.64 L135.04,381.63 L135.53,381.61 L136.02,381.59 L136.51,381.57 L137.00,381.56 L137.49,381.54 L137.98,381.52 L138.47,381.50 L138.95,381.48 L139.44,381.46 L139.93,381.44 L140.42,381.42 L140.91,381.39 L141.40,381.37 L141.89,381.35 L142.38,381.32 L142.87,381.30 L143.36,381.27 L143.85,381.24 L144.34,381.22 L144.83,381.19 L145.32,381.16 L145.81,381.13 L146.29,381.10 L146.78,381.06 L147.27,381.03 L147.76,381.00 L148.25,380.96 L148.74,380.93 L149.23,380.89 L149.72,380.85 L150.21,380.81 L150.70,380.77 L151.19,380.73 L151.68,380.69 L152.17,380.64 L152.66,380.60 L153.14,380.55 L153.63,380.50 L154.12,380.45 L154.61,380.40 L155.10,380.35 L155.59,380.29 L156.08,380.24 L156.57,380.18 L157.06,380.12 L157.55,380.06 L158.04,380.00 L158.53,379.93 L159.02,379.87 L159.51,379.80 L159.99,379.73 L160.48,379.66 L160.97,379.59 L161.46,379.51 L161.95,379.44 L162.44,379.36 L162.93,379.28 L163.42,379.20 L163.91,379.11 L164.40,379.03 L164.89,378.94 L165.38,378.85 L165.87,378.76 L166.36,378.66 L166.84,378.57 L167.33,378.47 L167.82,378.37 L168.31,378.26 L168.80,378.16 L169.29,378.05 L169.78,377.94 L170.27,377.83 L170.76,377.72 L171.25,377.60 L171.74,377.49 L172.23,377.37 L172.72,377.25 L173.21,377.12 L173.69,377.00 L174.18,376.87 L174.67,376.74 L175.16,376.61 L175.65,376.48 L176.14,376.34 L176.63,376.20 L177.12,376.07 L177.61,375.93 L178.10,375.78 L178.59,375.64 L179.08,375.50 L179.57,375.35 L180.06,375.20 L180.55,375.06 L181.03,374.91 L181.52,374.76 L182.01,374.61 L182.50,374.46 L182.99,374.30 L183.48,374.15 L183.97,374.00 L184.46,373.84 L184.95,373.69 L185.44,373.54 L185.93,373.39 L186.42,373.23 L186.91,373.08 L187.40,372.93 L187.88,372.78 L188.37,372.63 L188.86,372.49 L189.35,372.34 L189.84,372.19 L190.33,372.05 L190.82,371.91 L191.31,371.76 L191.80,371.62 L192.29,371.48 L192.78,371.33 L193.27,371.19 L193.76,371.05 L194.25,370.91 L194.73,370.76 L195.22,370.62 L195.71,370.47 L196.20,370.33 L196.69,370.18 L197.18,370.04 L197.67,369.89 L198.16,369.73 L198.65,369.58 L199.14,369.43 L199.63,369.27 L200.12,369.11 L200.61,368.94 L201.10,368.78 L201.58,368.60 L202.07,368.43 L202.56,368.25 L203.05,368.07 L203.54,367.88 L204.03,367.68 L204.52,367.48 L205.01,367.27 L205.50,367.06 L205.99,366.84 L206.48,366.61 L206.97,366.37 L207.46,366.13 L207.95,365.88 L208.44,365.62 L208.92,365.36 L209.41,365.08 L209.90,364.80 L210.39,364.51 L210.88,364.22 L211.37,363.91 L211.86,363.60 L212.35,363.27 L212.84,362.94 L213.33,362.60 L213.82,362.26 L214.31,361.90 L214.80,361.53 L215.29,361.16 L215.77,360.77 L216.26,360.38 L216.75,359.98 L217.24,359.56 L217.73,359.14 L218.22,358.71 L218.71,358.27 L219.20,357.82 L219.69,357.36 L220.18,356.89 L220.67,356.41 L221.16,355.92 L221.65,355.42 L222.14,354.91 L222.62,354.39 L223.11,353.86 L223.60,353.32 L224.09,352.77 L224.58,352.20 L225.07,351.62 L225.56,351.02 L226.05,350.41 L226.54,349.77 L227.03,349.12 L227.52,348.44 L228.01,347.73 L228.50,347.00 L228.99,346.25 L229.47,345.46 L229.96,344.63 L230.45,343.78 L230.94,342.88 L231.43,341.94 L231.92,340.99 L232.41,340.24 L232.90,340.00 L233.26,340.18 L233.62,340.46 L233.97,340.84 L234.33,341.31 L234.69,341.86 L235.05,342.49 L235.41,343.18 L235.77,343.93 L236.12,344.73 L236.48,345.56 L236.84,346.43 L237.20,347.32 L237.56,348.22 L237.91,349.14 L238.27,350.06 L238.63,350.98 L238.99,351.89 L239.35,352.79 L239.71,353.67 L240.06,354.54 L240.42,355.38 L240.78,356.19 L241.14,356.98 L241.50,357.74 L241.85,358.48 L242.21,359.19 L242.57,359.87 L242.93,360.54 L243.29,361.18 L243.65,361.80 L244.00,362.39 L244.36,362.97 L244.72,363.53 L245.08,364.07 L245.44,364.59 L245.79,365.10 L246.15,365.59 L246.51,366.06 L246.87,366.51 L247.23,366.95 L247.59,367.38 L247.94,367.79 L248.30,368.19 L248.66,368.58 L249.02,368.95 L249.38,369.31 L249.74,369.66 L250.09,370.00 L250.45,370.32 L250.81,370.64 L251.17,370.94 L251.53,371.24 L251.88,371.53 L252.24,371.80 L252.60,372.07 L252.96,372.33 L253.32,372.58 L253.68,372.82 L254.03,373.06 L254.39,373.29 L254.75,373.51 L255.11,373.72 L255.47,373.92 L255.82,374.12 L256.18,374.32 L256.54,374.50 L256.90,374.69 L257.26,374.86 L257.62,375.03 L257.97,375.20 L258.33,375.35 L258.69,375.51 L259.05,375.66 L259.41,375.80 L259.76,375.94 L260.12,376.08 L260.48,376.21 L260.84,376.33 L261.20,376.46 L261.56,376.58 L261.91,376.69 L262.27,376.80 L262.63,376.91 L262.99,377.02 L263.35,377.12 L263.70,377.22 L264.06,377.31 L264.42,377.40 L264.78,377.49 L265.14,377.58 L265.50,377.67 L265.85,377.75 L266.21,377.83 L266.57,377.90 L266.93,377.98 L267.29,378.05 L267.64,378.12 L268.00,378.19 L268.36,378.26 L268.72,378.32 L269.08,378.38 L269.44,378.45 L269.79,378.50 L270.15,378.56 L270.51,378.62 L270.87,378.67 L271.23,378.73 L271.58,378.78 L271.94,378.83 L272.30,378.88 L272.66,378.92 L273.02,378.97 L273.38,379.01 L273.73,379.06 L274.09,379.10 L274.45,379.14 L274.81,379.18 L275.17,379.22 L275.53,379.26 L275.88,379.30 L276.24,379.33 L276.60,379.37 L276.96,379.40 L277.32,379.43 L277.67,379.47 L278.03,379.50 L278.39,379.53 L278.75,379.56 L279.11,379.59 L279.47,379.62 L279.82,379.64 L280.18,379.67 L280.54,379.70 L280.90,379.72 L281.26,379.75 L281.61,379.77 L281.97,379.80 L282.33,379.82 L282.69,379.84 L283.05,379.86 L283.41,379.89 L283.76,379.91 L284.12,379.93 L284.48,379.95 L284.84,379.97 L285.20,379.99 L285.55,380.00 L285.91,380.02 L286.27,380.04 L286.63,380.06 L286.99,380.07 L287.35,380.09 L287.70,380.11 L288.06,380.12 L288.42,380.14 L288.78,380.15 L289.14,380.17 L289.49,380.18 L289.85,380.19 L290.21,380.21 L290.57,380.22 L290.93,380.23 L291.29,380.25 L291.64,380.26 L292.00,380.27 L292.36,380.28 L292.72,380.30 L293.08,380.31 L293.43,380.32 L293.79,380.33 L294.15,380.34 L294.51,380.35 L294.87,380.36 L295.23,380.37 L295.58,380.38 L295.94,380.39 L296.30,380.40 L296.66,380.41 L297.02,380.42 L297.37,380.43 L297.73,380.43 L298.09,380.44 L298.45,380.45 L298.81,380.46 L299.17,380.47 L299.52,380.48 L299.88,380.48 L300.24,380.49 L300.60,380.50 L300.96,380.51 L301.32,380.52 L301.67,380.52 L302.03,380.53 L302.39,380.54 L302.75,380.54 L303.11,380.55 L303.46,380.56 L303.82,380.57 L304.18,380.57 L304.54,380.58 L304.90,380.59 L305.26,380.59 L305.61,380.60 L305.97,380.61 L306.33,380.61 L306.69,380.62 L307.05,380.63 L307.40,380.63 L307.76,380.64 L308.12,380.65 L308.48,380.65 L308.84,380.66 L309.20,380.66 L309.55,380.67 L309.91,380.68 L310.27,380.68 L310.63,380.69 L310.99,380.70 L311.34,380.70 L311.70,380.71 L312.06,380.72 L312.42,380.72 L312.78,380.73 L313.14,380.74 L313.49,380.74 L313.85,380.75 L314.21,380.76 L314.57,380.77 L314.93,380.77 L315.28,380.78 L315.64,380.79 L316.00,380.79 L316.36,380.80 L316.72,380.81 L317.08,380.82 L317.43,380.82 L317.79,380.83 L318.15,380.84 L318.51,380.85 L318.87,380.85 L319.22,380.86 L319.58,380.87 L319.94,380.88 L320.30,380.89 L320.66,380.90 L321.02,380.90 L321.37,380.91 L321.73,380.92 L322.09,380.93 L322.45,380.94 L322.81,380.95 L323.16,380.96 L323.52,380.97 L323.88,380.98 L324.24,380.99 L324.60,381.00 L324.96,381.01 L325.31,381.02 L325.67,381.03 L326.03,381.04 L326.39,381.05 L326.75,381.06 L327.11,381.07 L327.46,381.08 L327.82,381.09 L328.18,381.10 L328.54,381.11 L328.90,381.12 L329.25,381.13 L329.61,381.14 L329.97,381.15 L330.33,381.17 L330.69,381.18 L331.05,381.19 L331.40,381.20 L331.76,381.21 L332.12,381.23 L332.48,381.24 L332.84,381.25 L333.19,381.26 L333.55,381.28 L333.91,381.29 L334.27,381.30 L334.63,381.32 L334.99,381.33 L335.34,381.34 L335.70,381.36 L336.06,381.37 L336.42,381.38 L336.78,381.40 L337.13,381.41 L337.49,381.42 L337.85,381.44 L338.21,381.45 L338.57,381.47 L338.93,381.48 L339.28,381.49 L339.64,381.51 L340.00,381.52" fill="none" stroke="#0000ff" stroke-width="2.6" stroke-dasharray="0.01 3.67" stroke-linecap="round" stroke-dashoffset="0.08" stroke-linejoin="miter"/>
<path d="M86.60,382.16 L87.16,382.16 L87.72,382.16 L88.28,382.16 L88.84,382.15 L89.40,382.15 L89.96,382.15 L90.52,382.15 L91.08,382.15 L91.64,382.14 L92.20,382.14 L92.76,382.14 L93.32,382.13 L93.88,382.13 L94.44,382.13 L95.00,382.13 L95.56,382.12 L96.12,382.12 L96.68,382.12 L97.24,382.11 L97.80,382.11 L98.36,382.10 L98.92,382.10 L99.48,382.10 L100.04,382.09 L100.60,382.09 L101.16,382.08 L101.72,382.08 L102.28,382.07 L102.84,382.07 L103.40,382.06 L103.96,382.06 L104.52,382.05 L105.08,382.05 L105.64,382.04 L106.20,382.04 L106.76,382.03 L107.32,382.03 L107.87,382.02 L108.43,382.01 L108.99,382.01 L109.55,382.00 L110.11,381.99 L110.67,381.99 L111.23,381.98 L111.79,381.97 L112.35,381.97 L112.91,381.96 L113.47,381.95 L114.03,381.94 L114.59,381.94 L115.15,381.93 L115.71,381.92 L116.27,381.91 L116.83,381.90 L117.39,381.89 L117.95,381.88 L118.51,381.88 L119.07,381.87 L119.63,381.86 L120.19,381.85 L120.75,381.84 L121.31,381.83 L121.87,381.82 L122.43,381.81 L122.99,381.79 L123.55,381.78 L124.11,381.77 L124.67,381.76 L125.23,381.75 L125.79,381.74 L126.35,381.72 L126.91,381.71 L127.47,381.70 L128.03,381.69 L128.59,381.67 L129.15,381.66 L129.71,381.65 L130.27,381.63 L130.83,381.62 L131.39,381.60 L131.95,381.59 L132.51,381.57 L133.07,381.56 L133.63,381.54 L134.19,381.52 L134.75,381.51 L135.31,381.49 L135.87,381.47 L136.43,381.46 L136.99,381.44 L137.55,381.42 L138.11,381.40 L138.67,381.38 L139.23,381.36 L139.79,381.35 L140.35,381.33 L140.91,381.31 L141.47,381.28 L142.03,381.26 L142.59,381.24 L143.15,381.22 L143.71,381.20 L144.27,381.17 L144.83,381.15 L145.39,381.13 L145.95,381.10 L146.51,381.08 L147.07,381.05 L147.63,381.03 L148.19,381.00 L148.75,380.98 L149.31,380.95 L149.86,380.92 L150.42,380.89 L150.98,380.87 L151.54,380.84 L152.10,380.81 L152.66,380.78 L153.22,380.75 L153.78,380.71 L154.34,380.68 L154.90,380.65 L155.46,380.62 L156.02,380.58 L156.58,380.55 L157.14,380.51 L157.70,380.48 L158.26,380.44 L158.82,380.40 L159.38,380.37 L159.94,380.33 L160.50,380.29 L161.06,380.25 L161.62,380.21 L162.18,380.17 L162.74,380.12 L163.30,380.08 L163.86,380.04 L164.42,379.99 L164.98,379.95 L165.54,379.90 L166.10,379.85 L166.66,379.80 L167.22,379.76 L167.78,379.71 L168.34,379.66 L168.90,379.60 L169.46,379.55 L170.02,379.50 L170.58,379.44 L171.14,379.39 L171.70,379.33 L172.26,379.27 L172.82,379.21 L173.38,379.15 L173.94,379.09 L174.50,379.03 L175.06,378.97 L175.62,378.90 L176.18,378.84 L176.74,378.77 L177.30,378.71 L177.86,378.64 L178.42,378.57 L178.98,378.50 L179.54,378.42 L180.10,378.35 L180.66,378.27 L181.22,378.20 L181.78,378.12 L182.34,378.04 L182.90,377.96 L183.46,377.88 L184.02,377.79 L184.58,377.71 L185.14,377.62 L185.70,377.53 L186.26,377.45 L186.82,377.35 L187.38,377.26 L187.94,377.17 L188.50,377.07 L189.06,376.98 L189.62,376.88 L190.18,376.78 L190.74,376.67 L191.29,376.57 L191.85,376.46 L192.41,376.36 L192.97,376.25 L193.53,376.14 L194.09,376.02 L194.65,375.91 L195.21,375.79 L195.77,375.67 L196.33,375.55 L196.89,375.43 L197.45,375.31 L198.01,375.18 L198.57,375.05 L199.13,374.92 L199.69,374.79 L200.25,374.66 L200.81,374.52 L201.37,374.38 L201.93,374.24 L202.49,374.10 L203.05,373.95 L203.61,373.81 L204.17,373.66 L204.73,373.50 L205.29,373.35 L205.85,373.19 L206.41,373.04 L206.97,372.87 L207.53,372.71 L208.09,372.54 L208.65,372.38 L209.21,372.20 L209.77,372.03 L210.33,371.85 L210.89,371.67 L211.45,371.49 L212.01,371.31 L212.57,371.12 L213.13,370.93 L213.69,370.73 L214.25,370.54 L214.81,370.33 L215.37,370.13 L215.93,369.92 L216.49,369.71 L217.05,369.49 L217.61,369.28 L218.17,369.05 L218.73,368.83 L219.29,368.59 L219.85,368.36 L220.41,368.12 L220.97,367.88 L221.53,367.63 L222.09,367.37 L222.65,367.12 L223.21,366.85 L223.77,366.58 L224.33,366.31 L224.89,366.03 L225.45,365.75 L226.01,365.46 L226.57,365.16 L227.13,364.86 L227.69,364.55 L228.25,364.24 L228.81,363.92 L229.37,363.59 L229.93,363.26 L230.49,362.91 L231.05,362.56 L231.61,362.21 L232.17,361.84 L232.73,361.47 L233.28,361.09 L233.84,360.70 L234.40,360.30 L234.96,359.90 L235.52,359.48 L236.08,359.05 L236.64,358.62 L237.20,358.17 L237.76,357.71 L238.32,357.24 L238.88,356.76 L239.44,356.27 L240.00,355.77 L240.56,355.25 L241.12,354.72 L241.68,354.18 L242.24,353.63 L242.80,353.06 L243.36,352.47 L243.92,351.87 L244.48,351.26 L245.04,350.63 L245.60,349.98 L246.16,349.31 L246.72,348.63 L247.28,347.93 L247.84,347.21 L248.40,346.47 L248.96,345.70 L249.52,344.92 L250.08,344.12 L250.64,343.29 L251.20,342.44 L251.76,341.56 L252.32,340.66 L252.88,339.74 L253.44,338.78 L254.00,337.80 L254.29,338.50 L254.58,339.21 L254.86,339.91 L255.15,340.62 L255.44,341.33 L255.73,342.04 L256.01,342.75 L256.30,343.46 L256.59,344.16 L256.88,344.86 L257.16,345.56 L257.45,346.26 L257.74,346.95 L258.03,347.63 L258.31,348.31 L258.60,348.98 L258.89,349.65 L259.18,350.30 L259.46,350.95 L259.75,351.60 L260.04,352.23 L260.33,352.85 L260.62,353.47 L260.90,354.08 L261.19,354.67 L261.48,355.26 L261.77,355.84 L262.05,356.40 L262.34,356.96 L262.63,357.51 L262.92,358.04 L263.20,358.56 L263.49,359.08 L263.78,359.58 L264.07,360.07 L264.35,360.55 L264.64,361.02 L264.93,361.48 L265.22,361.92 L265.51,362.36 L265.79,362.78 L266.08,363.20 L266.37,363.60 L266.66,363.99 L266.94,364.38 L267.23,364.75 L267.52,365.12 L267.81,365.47 L268.09,365.82 L268.38,366.16 L268.67,366.49 L268.96,366.81 L269.24,367.12 L269.53,367.43 L269.82,367.73 L270.11,368.02 L270.39,368.30 L270.68,368.57 L270.97,368.84 L271.26,369.11 L271.55,369.36 L271.83,369.61 L272.12,369.85 L272.41,370.09 L272.70,370.32 L272.98,370.54 L273.27,370.76 L273.56,370.97 L273.85,371.18 L274.13,371.38 L274.42,371.58 L274.71,371.77 L275.00,371.96 L275.28,372.14 L275.57,372.32 L275.86,372.49 L276.15,372.66 L276.43,372.82 L276.72,372.98 L277.01,373.13 L277.30,373.28 L277.59,373.43 L277.87,373.57 L278.16,373.71 L278.45,373.85 L278.74,373.98 L279.02,374.11 L279.31,374.23 L279.60,374.35 L279.89,374.47 L280.17,374.59 L280.46,374.70 L280.75,374.81 L281.04,374.91 L281.32,375.02 L281.61,375.12 L281.90,375.22 L282.19,375.31 L282.47,375.41 L282.76,375.50 L283.05,375.58 L283.34,375.67 L283.63,375.76 L283.91,375.84 L284.20,375.92 L284.49,376.00 L284.78,376.07 L285.06,376.15 L285.35,376.22 L285.64,376.29 L285.93,376.36 L286.21,376.43 L286.50,376.49 L286.79,376.56 L287.08,376.62 L287.36,376.68 L287.65,376.74 L287.94,376.80 L288.23,376.86 L288.52,376.91 L288.80,376.97 L289.09,377.02 L289.38,377.07 L289.67,377.12 L289.95,377.17 L290.24,377.22 L290.53,377.27 L290.82,377.31 L291.10,377.36 L291.39,377.40 L291.68,377.45 L291.97,377.49 L292.25,377.53 L292.54,377.57 L292.83,377.61 L293.12,377.65 L293.40,377.69 L293.69,377.73 L293.98,377.76 L294.27,377.80 L294.56,377.83 L294.84,377.87 L295.13,377.90 L295.42,377.93 L295.71,377.97 L295.99,378.00 L296.28,378.03 L296.57,378.06 L296.86,378.09 L297.14,378.12 L297.43,378.15 L297.72,378.17 L298.01,378.20 L298.29,378.23 L298.58,378.25 L298.87,378.28 L299.16,378.31 L299.44,378.33 L299.73,378.36 L300.02,378.38 L300.31,378.40 L300.60,378.43 L300.88,378.45 L301.17,378.47 L301.46,378.50 L301.75,378.52 L302.03,378.54 L302.32,378.56 L302.61,378.58 L302.90,378.60 L303.18,378.62 L303.47,378.64 L303.76,378.66 L304.05,378.68 L304.33,378.70 L304.62,378.72 L304.91,378.74 L305.20,378.76 L305.48,378.77 L305.77,378.79 L306.06,378.81 L306.35,378.83 L306.64,378.84 L306.92,378.86 L307.21,378.88 L307.50,378.90 L307.79,378.91 L308.07,378.93 L308.36,378.95 L308.65,378.96 L308.94,378.98 L309.22,378.99 L309.51,379.01 L309.80,379.03 L310.09,379.04 L310.37,379.06 L310.66,379.07 L310.95,379.09 L311.24,379.10 L311.53,379.12 L311.81,379.13 L312.10,379.15 L312.39,379.16 L312.68,379.18 L312.96,379.19 L313.25,379.21 L313.54,379.22 L313.83,379.24 L314.11,379.25 L314.40,379.27 L314.69,379.28 L314.98,379.30 L315.26,379.31 L315.55,379.33 L315.84,379.34 L316.13,379.36 L316.41,379.37 L316.70,379.39 L316.99,379.40 L317.28,379.42 L317.57,379.43 L317.85,379.45 L318.14,379.46 L318.43,379.48 L318.72,379.49 L319.00,379.51 L319.29,379.52 L319.58,379.54 L319.87,379.55 L320.15,379.57 L320.44,379.58 L320.73,379.60 L321.02,379.62 L321.30,379.63 L321.59,379.65 L321.88,379.66 L322.17,379.68 L322.45,379.70 L322.74,379.71 L323.03,379.73 L323.32,379.75 L323.61,379.76 L323.89,379.78 L324.18,379.80 L324.47,379.81 L324.76,379.83 L325.04,379.85 L325.33,379.87 L325.62,379.88 L325.91,379.90 L326.19,379.92 L326.48,379.94 L326.77,379.95 L327.06,379.97 L327.34,379.99 L327.63,380.01 L327.92,380.03 L328.21,380.05 L328.49,380.07 L328.78,380.08 L329.07,380.10 L329.36,380.12 L329.65,380.14 L329.93,380.16 L330.22,380.18 L330.51,380.20 L330.80,380.22 L331.08,380.24 L331.37,380.26 L331.66,380.28 L331.95,380.30 L332.23,380.32 L332.52,380.34 L332.81,380.36 L333.10,380.38 L333.38,380.41 L333.67,380.43 L333.96,380.45 L334.25,380.47 L334.54,380.49 L334.82,380.51 L335.11,380.53 L335.40,380.55 L335.69,380.58 L335.97,380.60 L336.26,380.62 L336.55,380.64 L336.84,380.66 L337.12,380.69 L337.41,380.71 L337.70,380.73 L337.99,380.75 L338.27,380.78 L338.56,380.80 L338.85,380.82 L339.14,380.84 L339.42,380.87 L339.71,380.89 L340.00,380.91" fill="none" stroke="#ff0000" stroke-width="1.75" stroke-dasharray="5.1 1.5 1.3 1.5" stroke-dashoffset="6.95" stroke-linejoin="miter"/>
</g>
<g stroke="#000" stroke-width="1.35" fill="none">
<path d="M340,161.0 H81.8 V386.8 H340"/>
<line x1="87.65" y1="386.8" x2="87.65" y2="392.40000000000003"/><line x1="87.65" y1="161.0" x2="87.65" y2="155.4"/><line x1="97.58" y1="386.8" x2="97.58" y2="389.8"/><line x1="97.58" y1="161.0" x2="97.58" y2="158.0"/><line x1="107.51" y1="386.8" x2="107.51" y2="389.8"/><line x1="107.51" y1="161.0" x2="107.51" y2="158.0"/><line x1="117.44" y1="386.8" x2="117.44" y2="389.8"/><line x1="117.44" y1="161.0" x2="117.44" y2="158.0"/><line x1="127.37" y1="386.8" x2="127.37" y2="389.8"/><line x1="127.37" y1="161.0" x2="127.37" y2="158.0"/><line x1="137.30" y1="386.8" x2="137.30" y2="392.40000000000003"/><line x1="137.30" y1="161.0" x2="137.30" y2="155.4"/><line x1="147.23" y1="386.8" x2="147.23" y2="389.8"/><line x1="147.23" y1="161.0" x2="147.23" y2="158.0"/><line x1="157.16" y1="386.8" x2="157.16" y2="389.8"/><line x1="157.16" y1="161.0" x2="157.16" y2="158.0"/><line x1="167.09" y1="386.8" x2="167.09" y2="389.8"/><line x1="167.09" y1="161.0" x2="167.09" y2="158.0"/><line x1="177.02" y1="386.8" x2="177.02" y2="389.8"/><line x1="177.02" y1="161.0" x2="177.02" y2="158.0"/><line x1="186.95" y1="386.8" x2="186.95" y2="392.40000000000003"/><line x1="186.95" y1="161.0" x2="186.95" y2="155.4"/><line x1="196.88" y1="386.8" x2="196.88" y2="389.8"/><line x1="196.88" y1="161.0" x2="196.88" y2="158.0"/><line x1="206.81" y1="386.8" x2="206.81" y2="389.8"/><line x1="206.81" y1="161.0" x2="206.81" y2="158.0"/><line x1="216.74" y1="386.8" x2="216.74" y2="389.8"/><line x1="216.74" y1="161.0" x2="216.74" y2="158.0"/><line x1="226.67" y1="386.8" x2="226.67" y2="389.8"/><line x1="226.67" y1="161.0" x2="226.67" y2="158.0"/><line x1="236.60" y1="386.8" x2="236.60" y2="392.40000000000003"/><line x1="236.60" y1="161.0" x2="236.60" y2="155.4"/><line x1="246.53" y1="386.8" x2="246.53" y2="389.8"/><line x1="246.53" y1="161.0" x2="246.53" y2="158.0"/><line x1="256.46" y1="386.8" x2="256.46" y2="389.8"/><line x1="256.46" y1="161.0" x2="256.46" y2="158.0"/><line x1="266.39" y1="386.8" x2="266.39" y2="389.8"/><line x1="266.39" y1="161.0" x2="266.39" y2="158.0"/><line x1="276.32" y1="386.8" x2="276.32" y2="389.8"/><line x1="276.32" y1="161.0" x2="276.32" y2="158.0"/><line x1="286.25" y1="386.8" x2="286.25" y2="392.40000000000003"/><line x1="286.25" y1="161.0" x2="286.25" y2="155.4"/><line x1="296.18" y1="386.8" x2="296.18" y2="389.8"/><line x1="296.18" y1="161.0" x2="296.18" y2="158.0"/><line x1="306.11" y1="386.8" x2="306.11" y2="389.8"/><line x1="306.11" y1="161.0" x2="306.11" y2="158.0"/><line x1="316.04" y1="386.8" x2="316.04" y2="389.8"/><line x1="316.04" y1="161.0" x2="316.04" y2="158.0"/><line x1="325.97" y1="386.8" x2="325.97" y2="389.8"/><line x1="325.97" y1="161.0" x2="325.97" y2="158.0"/><line x1="335.90" y1="386.8" x2="335.90" y2="392.40000000000003"/><line x1="335.90" y1="161.0" x2="335.90" y2="155.4"/><line x1="81.8" y1="382.30" x2="76.2" y2="382.30"/><line x1="81.8" y1="371.49" x2="78.8" y2="371.49"/><line x1="81.8" y1="360.68" x2="78.8" y2="360.68"/><line x1="81.8" y1="349.87" x2="78.8" y2="349.87"/><line x1="81.8" y1="339.06" x2="78.8" y2="339.06"/><line x1="81.8" y1="328.25" x2="76.2" y2="328.25"/><line x1="81.8" y1="317.44" x2="78.8" y2="317.44"/><line x1="81.8" y1="306.63" x2="78.8" y2="306.63"/><line x1="81.8" y1="295.82" x2="78.8" y2="295.82"/><line x1="81.8" y1="285.01" x2="78.8" y2="285.01"/><line x1="81.8" y1="274.20" x2="76.2" y2="274.20"/><line x1="81.8" y1="263.39" x2="78.8" y2="263.39"/><line x1="81.8" y1="252.58" x2="78.8" y2="252.58"/><line x1="81.8" y1="241.77" x2="78.8" y2="241.77"/><line x1="81.8" y1="230.96" x2="78.8" y2="230.96"/><line x1="81.8" y1="220.15" x2="76.2" y2="220.15"/><line x1="81.8" y1="209.34" x2="78.8" y2="209.34"/><line x1="81.8" y1="198.53" x2="78.8" y2="198.53"/><line x1="81.8" y1="187.72" x2="78.8" y2="187.72"/><line x1="81.8" y1="176.91" x2="78.8" y2="176.91"/><line x1="81.8" y1="166.10" x2="76.2" y2="166.10"/>
</g>
<g><text x="87.7" y="406.7" font-size="14.6" text-anchor="middle">0.0</text><text x="137.3" y="406.7" font-size="14.6" text-anchor="middle">0.5</text><text x="186.9" y="406.7" font-size="14.6" text-anchor="middle">1.0</text><text x="236.6" y="406.7" font-size="14.6" text-anchor="middle">1.5</text><text x="286.2" y="406.7" font-size="14.6" text-anchor="middle">2.0</text><text x="335.9" y="406.7" font-size="14.6" text-anchor="middle">2.5</text><text x="74.37" y="386.90" font-size="14.6" text-anchor="end">0.00</text><text x="74.41" y="332.85" font-size="14.6" text-anchor="end">0.05</text><text x="74.37" y="278.80" font-size="14.6" text-anchor="end">0.10</text><text x="74.41" y="224.75" font-size="14.6" text-anchor="end">0.15</text><text x="74.37" y="170.70" font-size="14.6" text-anchor="end">0.20</text><text x="103.86" y="184.50" font-size="14.6" >p</text><text x="115.84" y="184.50" font-size="14.6" >V</text><text x="125.74" y="189.00" font-size="9.3" >0</text><text x="131.90" y="184.50" font-size="14.6" >/</text><text x="139.99" y="184.50" font-size="14.6" >(</text><text x="147.00" y="184.50" font-size="14.6" >N</text><text x="162.22" y="184.50" font-size="14.6" >k</text><text x="171.04" y="189.00" font-size="9.3" >B</text><text x="177.87" y="184.50" font-size="14.6" >T</text><text x="188.24" y="178.20" font-size="9.3" >0</text><text x="186.14" y="189.00" font-size="9.3" >D</text><text x="194.41" y="184.50" font-size="14.6" >)</text><text x="201.37" y="184.50" font-size="14.6" >:</text><text x="180.27" y="206.00" font-size="14.6" text-anchor="end">-5.0</text><text x="180.27" y="223.70" font-size="14.6" text-anchor="end">0.0</text><text x="180.27" y="241.00" font-size="14.6" text-anchor="end">10.0</text><text x="95.09" y="278.50" font-size="13.5" >D</text><text x="109.00" y="278.50" font-size="13.5" >/</text><text x="116.06" y="278.50" font-size="13.5" >(</text><text x="121.69" y="278.50" font-size="13.5" >k</text><text x="131.22" y="282.50" font-size="8.3" >B</text><text x="137.80" y="278.50" font-size="13.5" >T</text><text x="147.28" y="272.70" font-size="8.3" >0</text><text x="145.42" y="282.50" font-size="8.3" >D</text><text x="153.52" y="278.50" font-size="13.5" >)</text><text x="161.34" y="278.50" font-size="13.5" >=</text><text x="173.37" y="278.50" font-size="13.5" >10.0</text><text x="95.89" y="299.60" font-size="13.5" >J</text><text x="105.00" y="299.60" font-size="13.5" >/</text><text x="112.56" y="299.60" font-size="13.5" >(</text><text x="117.89" y="299.60" font-size="13.5" >k</text><text x="127.72" y="303.60" font-size="8.3" >B</text><text x="137.10" y="299.60" font-size="13.5" >T</text><text x="146.78" y="293.80" font-size="8.3" >0</text><text x="144.62" y="303.60" font-size="8.3" >D</text><text x="152.92" y="299.60" font-size="13.5" >)</text><text x="160.94" y="299.60" font-size="13.5" >=</text><text x="173.37" y="299.60" font-size="13.5" >1.0</text><text x="95.53" y="322.30" font-size="13.5" >q</text><text x="106.74" y="322.30" font-size="13.5" >=</text><text x="118.87" y="322.30" font-size="13.5" >1.0</text><text x="95.5" y="344.4" font-size="16" font-family="Liberation Serif" stroke="none" style="stroke:none;font-family:'Liberation Serif',serif">α</text><text x="107.54" y="344.40" font-size="13.5" >=</text><text x="119.29" y="344.40" font-size="13.5" >4.0</text><text x="95.20" y="366.50" font-size="13.5" >n</text><text x="106.74" y="366.50" font-size="13.5" >=</text><text x="118.41" y="366.50" font-size="13.5" >6</text><text x="288.30" y="212.60" font-size="13.0" >h</text><text x="298.10" y="212.60" font-size="13.0" >/</text><text x="305.09" y="212.60" font-size="13.0" >(</text><text x="310.92" y="212.60" font-size="13.0" >k</text><text x="319.43" y="216.80" font-size="8.2" >B</text><text x="325.31" y="212.60" font-size="13.0" >T</text><text x="333.98" y="206.60" font-size="8.2" >0</text><text x="332.03" y="217.00" font-size="8.2" >D</text><text x="270.10" y="354.40" font-size="13.0" >h</text><text x="280.00" y="354.40" font-size="13.0" >/</text><text x="286.89" y="354.40" font-size="13.0" >(</text><text x="292.12" y="354.40" font-size="13.0" >k</text><text x="300.23" y="358.80" font-size="8.2" >B</text><text x="306.71" y="354.40" font-size="13.0" >T</text><text x="314.88" y="348.50" font-size="8.2" >0</text><text x="313.33" y="358.80" font-size="8.2" >D</text><text x="320.72" y="354.40" font-size="13.0" >)</text><text x="328.97" y="354.40" font-size="13.0" >=</text><text x="217.86" y="431.90" font-size="15.0" >T</text><text x="231.10" y="431.90" font-size="15.0" >/</text><text x="238.76" y="431.90" font-size="15.0" >T</text><text x="250.44" y="423.90" font-size="9.2" >0</text><text x="247.85" y="436.70" font-size="9.2" >D</text><g transform="translate(21.1,0) rotate(-90)"><text x="-322.60" y="0.00" font-size="14.6" >|</text><text x="-317.13" y="0.00" font-size="14.6" textLength="9" lengthAdjust="spacingAndGlyphs">Δ</text><text x="-308.23" y="0.00" font-size="14.6" >T</text><text x="-299.34" y="5.80" font-size="9.6" >S,p</text><text x="-283.90" y="0.00" font-size="14.6" >|</text><text x="-276.40" y="0.00" font-size="14.6" >/</text><text x="-268.33" y="0.00" font-size="14.6" >T</text><text x="-259.68" y="5.80" font-size="9.5" >D</text><text x="-257.56" y="-6.40" font-size="9.2" >0</text></g></g>
<g fill="none">
<line x1="111.9" y1="201.4" x2="142" y2="201.4" stroke="#0000ff" stroke-width="2.3" stroke-dasharray="0.01 3.68" stroke-linecap="round"/>
<line x1="111.4" y1="218.6" x2="143.8" y2="218.6" stroke="#000" stroke-width="1.5"/>
<line x1="110.9" y1="236.6" x2="143.8" y2="236.6" stroke="#ff0000" stroke-width="1.5" stroke-dasharray="5.4 2.3 1.3 2.2"/>
</g>
</svg>
</body></html>
